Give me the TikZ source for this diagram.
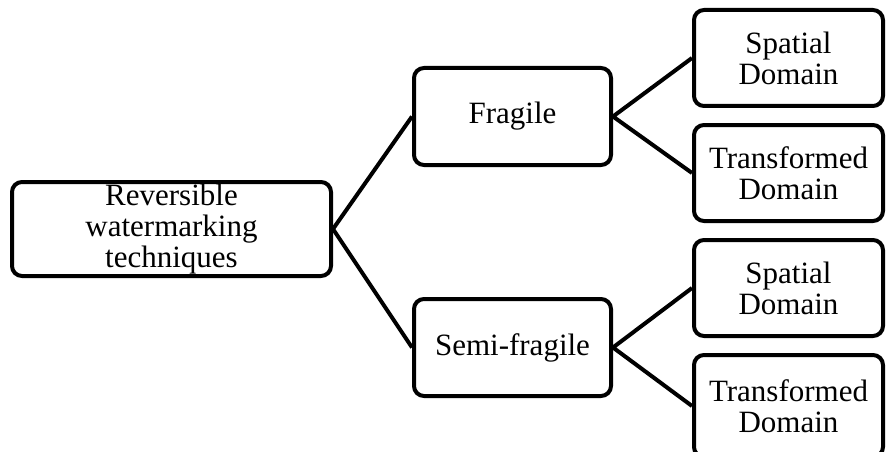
\documentclass[tikz,border=0pt]{standalone}
\usepackage{fontspec}
\setmainfont{Liberation Serif}
\usepackage{tikz}
\tikzset{
	box/.style={draw, line width=4pt, rounded corners=10pt, align=center, inner sep=0pt,
		font=\fontsize{31}{31}\selectfont},
	link/.style={line width=4pt}
}

\begin{document}
\begin{tikzpicture}[x=1pt, y=-1pt]
		%%%%% START %%%%%
		
		\useasboundingbox (0, 0) rectangle (887, 452);
		
		\node[box, minimum width=319pt, minimum height=94pt] (root) at (171.5, 229) {Reversible\\watermarking\\techniques};
		
		\node[box, minimum width=197pt, minimum height=97pt] (fragile) at (512.5, 116.5) {Fragile};
		\node[box, minimum width=197pt, minimum height=97pt] (semi) at (512.5, 347.5) {Semi-fragile};
		
		\node[box, minimum width=189pt, minimum height=96pt] (fspatial) at (788.5, 58) {Spatial\\Domain};
		\node[box, minimum width=189pt, minimum height=96pt] (ftrans) at (788.5, 173) {Transformed\\Domain};
		\node[box, minimum width=189pt, minimum height=96pt] (sspatial) at (788.5, 288) {Spatial\\Domain};
		\node[box, minimum width=189pt, minimum height=102pt] (strans) at (788.5, 406) {Transformed\\Domain};
		
		\draw[link] (fragile.west) -- (root.east) -- (semi.west);
		\draw[link] (fspatial.west) -- (fragile.east) -- (ftrans.west);
		\draw[link] (sspatial.west) -- (semi.east) -- (strans.west);
		
		%%%%% END %%%%%
	\end{tikzpicture}
\end{document}
